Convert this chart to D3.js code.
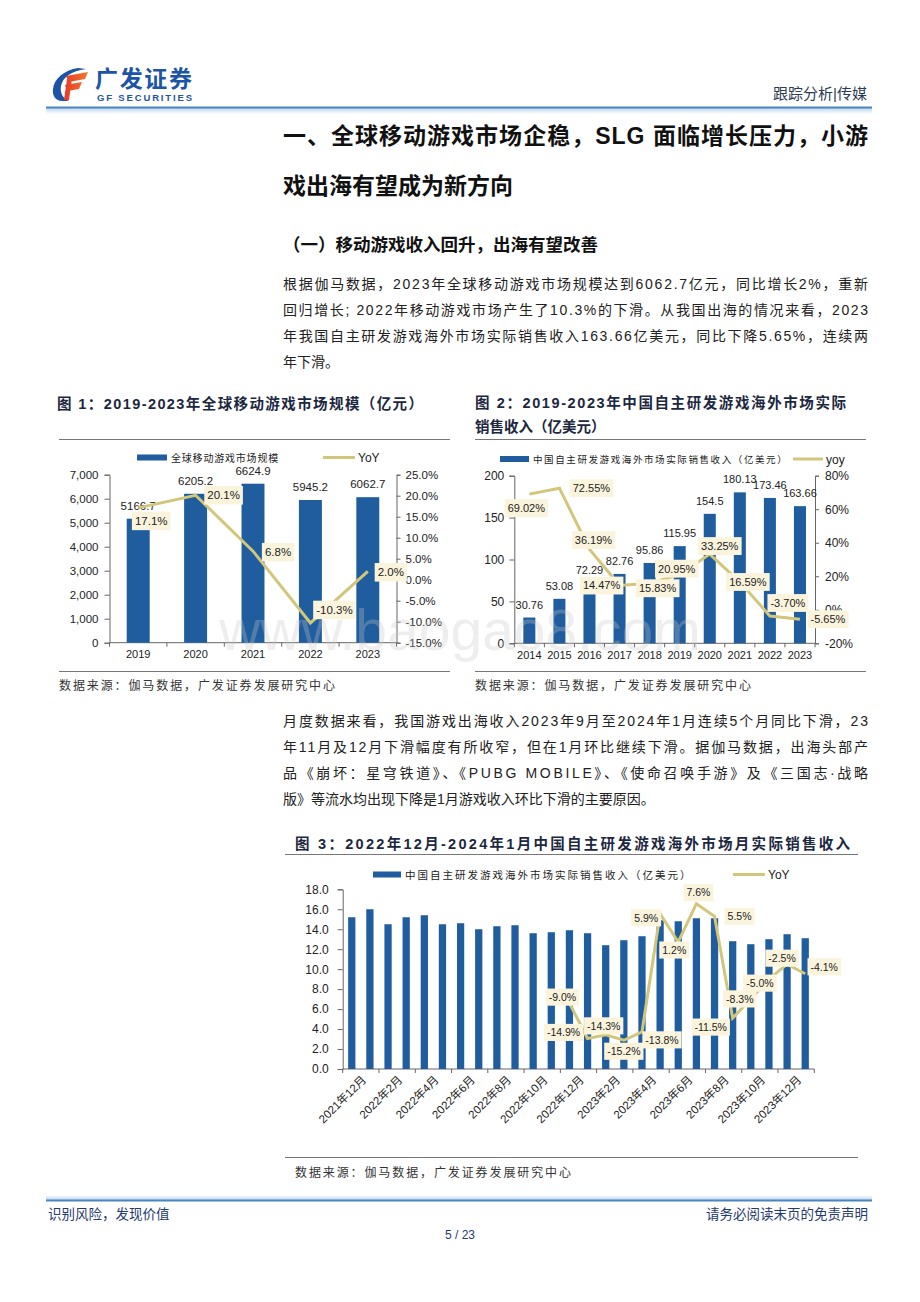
<!DOCTYPE html>
<html>
<head>
<meta charset="utf-8">
<script src="https://cdn.jsdelivr.net/npm/d3@7"></script>
<style>
  body { margin: 0; background: #fff; }
  svg { display: block; }
</style>
</head>
<body>
<script>
const CJK = '"Liberation Sans", Arial, "Noto Sans CJK SC", sans-serif'
const NUM = '"Liberation Sans", Arial, "Noto Sans CJK SC", sans-serif'
const BAR = '#1f5d9e'
const LINE = '#d1c67a'
const BOX = '#fbf4dd'
const AXIS = '#666'

// chart 1
const years1 = ['2019', '2020', '2021', '2022', '2023']
const market1 = [5166.7, 6205.2, 6624.9, 5945.2, 6062.7]
const yoy1 = [17.1, 20.1, 6.8, -10.3, 2.0]

// chart 2
const years2 = ['2014', '2015', '2016', '2017', '2018', '2019', '2020', '2021', '2022', '2023']
const sales2 = [30.76, 53.08, 72.29, 82.76, 95.86, 115.95, 154.5, 180.13, 173.46, 163.66]
const yoy2 = [69.02, 72.55, 36.19, 14.47, 15.83, 20.95, 33.25, 16.59, -3.70, -5.65]

// chart 3
const months3 = ['2021年12月', '2022年1月', '2022年2月', '2022年3月', '2022年4月', '2022年5月', '2022年6月',
  '2022年7月', '2022年8月', '2022年9月', '2022年10月', '2022年11月', '2022年12月', '2023年1月',
  '2023年2月', '2023年3月', '2023年4月', '2023年5月', '2023年6月', '2023年7月', '2023年8月',
  '2023年9月', '2023年10月', '2023年11月', '2023年12月', '2024年1月']
const sales3 = [15.2, 16.0, 14.5, 15.2, 15.4, 14.5, 14.6, 14.0, 14.3, 14.4, 13.6, 13.7, 13.9,
  13.6, 12.4, 12.9, 13.3, 14.9, 14.8, 15.1, 15.1, 12.8, 12.5, 13.0, 13.5, 13.1]
const yoyMonths3 = months3.slice(12)
const yoy3 = [-9.0, -14.9, -14.3, -15.2, -13.8, 5.9, 1.2, 7.6, 5.5, -11.5, -8.3, -5.0, -2.5, -4.1]

// label nudges (dx, dy from the line point), picked by eye
const nudge1 = [[13, 13], [28, 0], [25, 1], [24, -13], [23, 1]]
const nudge2 = [[-3, 14], [32, 0], [4, -9], [-18, 0], [8, 5], [-3, -6], [10, -8], [8, 0], [18, -13], [28, 0]]
const nudge3 = [[-7, -6], [-24, -6], [-2, -9], [0, 11], [20, 8], [-14, 4], [-4, 8], [2, -11], [25, 0],
  [-22, 9], [-11, 0], [-9, 4], [-5, -6], [19, -7]]

const svg = d3.select('body').append('svg').attr('width', 920).attr('height', 1302)

function txt(g, x, y, s, o = {}) {
  const t = g.append('text')
    .attr('x', x).attr('y', y)
    .attr('font-size', o.size || 14)
    .attr('font-family', o.font || CJK)
    .attr('fill', o.fill || '#111')
    .text(s)
  if (o.weight) t.attr('font-weight', o.weight)
  if (o.anchor) t.attr('text-anchor', o.anchor)
  if (o.ls) t.attr('letter-spacing', o.ls)
  if (o.len) t.attr('textLength', o.len).attr('lengthAdjust', o.adjust || 'spacing')
  return t
}

// ---------- header ----------
const defs = svg.append('defs')
const grad = defs.append('linearGradient').attr('id', 'fade').attr('x1', 0).attr('x2', 0).attr('y1', 0).attr('y2', 1)
grad.append('stop').attr('offset', 0).attr('stop-color', '#bcd6ee')
grad.append('stop').attr('offset', 1).attr('stop-color', '#fff')
const fgrad = defs.append('linearGradient').attr('id', 'fred').attr('x1', 0).attr('x2', 1)
fgrad.append('stop').attr('offset', 0).attr('stop-color', '#e8382b')
fgrad.append('stop').attr('offset', 1).attr('stop-color', '#f07a2a')

const logo = svg.append('g').attr('transform', 'translate(52,67)')
logo.append('path')
  .attr('d', 'M26 1 C12 3 2 12 1 22 C0 29 4 34 10 34 L17 34 C10 31 8 25 9 19 C11 10 19 4 34 2 Z')
  .attr('fill', '#1d55a6')
logo.append('path')
  .attr('d', 'M14 9 L36 5 L33 12 L17 15 Z M13 18 L30 15 L27 22 L15 24 Z M15 12 L20 12 L17 33 L12 33 Z')
  .attr('fill', 'url(#fred)')
txt(svg, 95, 87, '广发证券', { size: 23, weight: 'bold', fill: '#1d55a6', len: 97 })
txt(svg, 97, 101, 'GF SECURITIES', { size: 9.5, weight: 'bold', fill: '#1d55a6', len: 95, font: NUM })
txt(svg, 867, 99, '跟踪分析|传媒', { size: 15, anchor: 'end', fill: '#2b3a55' })
svg.append('rect').attr('x', 46).attr('y', 108).attr('width', 826).attr('height', 6).attr('fill', 'url(#fade)')
svg.append('line').attr('x1', 46).attr('x2', 872).attr('y1', 107.5).attr('y2', 107.5)
  .attr('stroke', '#4a86c2').attr('stroke-width', 2)

// ---------- headings and text ----------
txt(svg, 283, 144, '一、全球移动游戏市场企稳，SLG 面临增长压力，小游', { size: 23, weight: 'bold', len: 585 })
txt(svg, 283, 194, '戏出海有望成为新方向', { size: 23, weight: 'bold' })
txt(svg, 283, 251, '（一）移动游戏收入回升，出海有望改善', { size: 17.5, weight: 'bold' })

const para1 = [
  '根据伽马数据，2023年全球移动游戏市场规模达到6062.7亿元，同比增长2%，重新',
  '回归增长; 2022年移动游戏市场产生了10.3%的下滑。从我国出海的情况来看，2023',
  '年我国自主研发游戏海外市场实际销售收入163.66亿美元，同比下降5.65%，连续两',
  '年下滑。'
]
para1.forEach((s, i) => txt(svg, 283, 288.5 + i * 26, s, { size: 14, fill: '#222', len: i < 3 ? 585 : null }))

const para2 = [
  '月度数据来看，我国游戏出海收入2023年9月至2024年1月连续5个月同比下滑，23',
  '年11月及12月下滑幅度有所收窄，但在1月环比继续下滑。据伽马数据，出海头部产',
  '品《崩坏：星穹铁道》、《PUBG MOBILE》、《使命召唤手游》及《三国志·战略',
  '版》等流水均出现下降是1月游戏收入环比下滑的主要原因。'
]
para2.forEach((s, i) => txt(svg, 283, 726 + i * 26, s, { size: 14, fill: '#222', len: i < 3 ? 585 : null }))

// chart titles, rules, sources
txt(svg, 57, 408.5, '图 1：2019-2023年全球移动游戏市场规模（亿元）', { size: 14.5, weight: 'bold', fill: '#1c2740', len: 366 })
txt(svg, 475, 408, '图 2：2019-2023年中国自主研发游戏海外市场实际', { size: 14.5, weight: 'bold', fill: '#1c2740', len: 371 })
txt(svg, 475, 432, '销售收入（亿美元）', { size: 14.5, weight: 'bold', fill: '#1c2740' })
txt(svg, 295, 848.5, '图 3：2022年12月-2024年1月中国自主研发游戏海外市场月实际销售收入', { size: 14.5, weight: 'bold', fill: '#1c2740', len: 555 })

const rules = [[59, 450, 439.5], [59, 450, 671.5], [475, 866, 439.5], [475, 866, 671.5], [285, 858, 854.5], [285, 858, 1157.5]]
rules.forEach(r => svg.append('line').attr('x1', r[0]).attr('x2', r[1]).attr('y1', r[2]).attr('y2', r[2])
  .attr('stroke', '#777').attr('stroke-width', 1))

const src = '数据来源：伽马数据，广发证券发展研究中心'
txt(svg, 59, 689.5, src, { size: 12, fill: '#333', len: 276 })
txt(svg, 475, 689.5, src, { size: 12, fill: '#333', len: 276 })
txt(svg, 295, 1176.5, src, { size: 12, fill: '#333', len: 276 })

// ---------- chart helpers ----------
function boundaryTicks(g, x, y, every, len) {
  const [r0, r1] = x.range()
  const n = x.domain().length
  const step = (r1 - r0) / n
  for (let i = 0; i <= n; i += every) {
    g.append('line').attr('x1', r0 + i * step).attr('x2', r0 + i * step)
      .attr('y1', y).attr('y2', y + len).attr('stroke', AXIS)
  }
}

function styleAxis(sel, size) {
  sel.select('.domain').attr('stroke', AXIS)
  sel.selectAll('.tick line').attr('stroke', AXIS)
  sel.selectAll('.tick text').attr('fill', '#222').attr('font-size', size).attr('font-family', NUM)
}

function labelBox(g, cx, cy, s, size) {
  const t = g.append('text').attr('x', cx).attr('y', cy + size * 0.36)
    .attr('text-anchor', 'middle').attr('font-size', size).attr('font-family', NUM)
    .attr('fill', '#222').text(s)
  const bb = t.node().getBBox()
  g.insert('rect', () => t.node())
    .attr('x', bb.x - 3).attr('y', cy - size * 0.72 - 1)
    .attr('width', bb.width + 6).attr('height', size * 1.44 + 2)
    .attr('fill', BOX)
}

function comboChart(cfg) {
  const g = svg.append('g')
  const x = d3.scaleBand().domain(cfg.cats).range([cfg.left, cfg.right]).paddingInner(0.6).paddingOuter(0.3)
  const y = d3.scaleLinear().domain(cfg.yDomain).range([cfg.bottom, cfg.top])
  const y2 = d3.scaleLinear().domain(cfg.y2Domain).range([cfg.bottom, cfg.top])

  g.append('g').attr('transform', `translate(${cfg.left},0)`)
    .call(d3.axisLeft(y).tickValues(cfg.yTicks).tickFormat(cfg.yFormat).tickSize(5).tickPadding(cfg.padL || 5))
    .call(s => styleAxis(s, cfg.tickSize))
  g.append('g').attr('transform', `translate(${cfg.right},0)`)
    .call(d3.axisRight(y2).tickValues(cfg.y2Ticks).tickFormat(cfg.y2Format).tickSize(4).tickPadding(cfg.padR || 5))
    .call(s => styleAxis(s, cfg.tickSize))
    .attr('clip-path', cfg.clip || null)

  const xa = g.append('g').attr('transform', `translate(0,${cfg.bottom})`)
    .call(d3.axisBottom(x).tickSize(0).tickPadding(cfg.xPad || 8).tickFormat((d, i) => (i % cfg.labelEvery === 0 ? d : '')))
    .call(s => styleAxis(s, cfg.xSize))
  xa.select('.domain').attr('d', `M${cfg.left},0H${cfg.right}`)
  if (cfg.rotate) {
    xa.selectAll('.tick text')
      .attr('text-anchor', 'end')
      .attr('transform', `translate(${x.bandwidth() * 0.5 + 3},3) rotate(-45)`)
      .attr('dy', '0.35em').attr('y', 8)
  }
  boundaryTicks(g, x, cfg.bottom, cfg.labelEvery, 4)

  g.selectAll('rect.bar').data(cfg.bars).join('rect').attr('class', 'bar')
    .attr('x', (d, i) => x(cfg.cats[i]))
    .attr('width', x.bandwidth())
    .attr('y', d => y(d))
    .attr('height', d => y(0) - y(d))
    .attr('fill', BAR)

  if (cfg.barLabels) {
    g.selectAll('text.val').data(cfg.bars).join('text').attr('class', 'val')
      .attr('x', (d, i) => x(cfg.cats[i]) + x.bandwidth() / 2)
      .attr('y', d => y(d) - 9)
      .attr('text-anchor', 'middle').attr('font-size', cfg.valSize).attr('font-family', NUM)
      .attr('fill', '#222').text(cfg.barLabelFormat)
  }

  const cx = c => x(c) + x.bandwidth() / 2
  const line = d3.line().x((d, i) => cx(cfg.lineCats[i])).y(d => y2(d))
  g.append('path').datum(cfg.line).attr('d', line)
    .attr('fill', 'none').attr('stroke', LINE).attr('stroke-width', 3).attr('stroke-linejoin', 'miter')

  cfg.line.forEach((v, i) => {
    const [dx, dy] = cfg.nudge[i]
    labelBox(g, cx(cfg.lineCats[i]) + dx, y2(v) + dy, cfg.lineFormat(v), cfg.valSize)
  })

  // legend
  const L = cfg.legend
  g.append('rect').attr('x', L.bx).attr('y', L.y - 3).attr('width', L.bw).attr('height', 6).attr('fill', BAR)
  txt(g, L.bx + L.bw + 4, L.y + 4, L.barText, { size: L.size, fill: '#222', ls: L.ls })
  g.append('line').attr('x1', L.lx).attr('x2', L.lx + L.lw).attr('y1', L.y).attr('y2', L.y)
    .attr('stroke', LINE).attr('stroke-width', 3)
  txt(g, L.lx + L.lw + 3, L.y + 4.5, L.lineText, { size: 12, fill: '#222', font: NUM })
  return g
}

// ---------- chart 1 ----------
comboChart({
  cats: years1, bars: market1, line: yoy1, lineCats: years1,
  left: 109.5, right: 396.5, top: 474.7, bottom: 642.7,
  yDomain: [0, 7000], yTicks: d3.range(0, 7001, 1000), yFormat: d3.format(','),
  y2Domain: [-15, 25], y2Ticks: d3.range(-15, 26, 5), y2Format: d => d.toFixed(1) + '%',
  tickSize: 11.5, xSize: 11, labelEvery: 1, valSize: 11.5, padL: 6, padR: 5,
  barLabels: true, barLabelFormat: d => d.toFixed(1),
  lineFormat: d => d.toFixed(1) + '%', nudge: nudge1,
  legend: { y: 457.5, bx: 137, bw: 30, barText: '全球移动游戏市场规模', size: 10, ls: 0.8, lx: 323, lw: 32, lineText: 'YoY' }
})

// ---------- chart 2 ----------
comboChart({
  cats: years2, bars: sales2, line: yoy2, lineCats: years2,
  left: 514.3, right: 815, top: 475.7, bottom: 643.3,
  yDomain: [0, 200], yTicks: d3.range(0, 201, 50), yFormat: d3.format('d'),
  y2Domain: [-20, 80], y2Ticks: d3.range(-20, 81, 20), y2Format: d => d + '%',
  tickSize: 12, xSize: 11, labelEvery: 1, valSize: 11, padL: 5, padR: 6,
  barLabels: true, barLabelFormat: d => String(d),
  lineFormat: d => d.toFixed(2) + '%', nudge: nudge2,
  legend: { y: 459, bx: 500, bw: 29, barText: '中国自主研发游戏海外市场实际销售收入（亿美元）', size: 9.5, ls: 1.6, lx: 793, lw: 30, lineText: 'yoy' }
})

// ---------- chart 3 ----------
defs.append('clipPath').attr('id', 'cut3').append('rect').attr('x', 780).attr('y', 860).attr('width', 77).attr('height', 230)
comboChart({
  cats: months3, bars: sales3, line: yoy3, lineCats: yoyMonths3,
  left: 342.7, right: 814.3, top: 889.3, bottom: 1069,
  yDomain: [0, 18], yTicks: d3.range(0, 18.1, 2), yFormat: d => d.toFixed(1),
  y2Domain: [-20, 10], y2Ticks: d3.range(-20, 10.1, 5), y2Format: d => d.toFixed(1) + '%',
  tickSize: 12, xSize: 11.5, labelEvery: 2, valSize: 10.5, padL: 9, padR: 8, rotate: true, clip: 'url(#cut3)',
  barLabels: false,
  lineFormat: d => d.toFixed(1) + '%', nudge: nudge3,
  legend: { y: 874.5, bx: 373, bw: 28, barText: '中国自主研发游戏海外市场实际销售收入（亿美元）', size: 10.5, ls: 2, lx: 733, lw: 32, lineText: 'YoY' }
})

// watermark
txt(svg, 460, 650, 'www.baogao8.com', { size: 57, anchor: 'middle', fill: '#c9c9c9', font: NUM })
  .attr('opacity', 0.3)

// ---------- footer ----------
svg.append('rect').attr('x', 46).attr('y', 1195).attr('width', 826).attr('height', 5).attr('fill', 'url(#fade)')
  .attr('transform', 'rotate(180 459 1197.5)')
svg.append('line').attr('x1', 46).attr('x2', 872).attr('y1', 1200.5).attr('y2', 1200.5)
  .attr('stroke', '#4a86c2').attr('stroke-width', 2)
txt(svg, 48, 1219, '识别风险，发现价值', { size: 13.5, fill: '#1f3b70' })
txt(svg, 868, 1219, '请务必阅读末页的免责声明', { size: 13.5, fill: '#1f3b70', anchor: 'end' })
txt(svg, 460, 1239, '5 / 23', { size: 12, fill: '#1f3b70', anchor: 'middle', font: NUM })
</script>
</body>
</html>
